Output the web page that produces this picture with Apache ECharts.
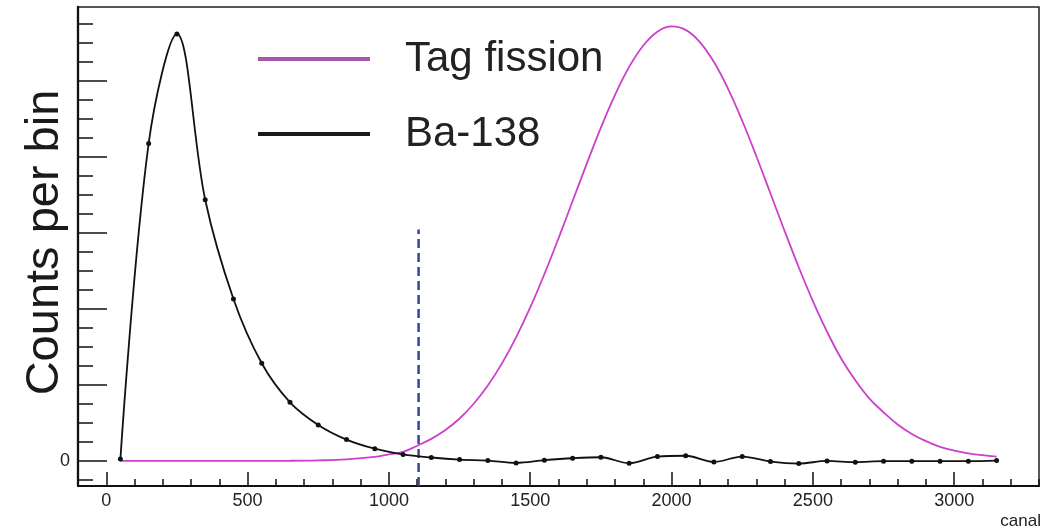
<!DOCTYPE html>
<html><head><meta charset="utf-8">
<script src="https://cdn.jsdelivr.net/npm/echarts@6/dist/echarts.min.js"></script>
<style>html,body{margin:0;padding:0;background:#fff}#c{width:1059px;height:531px}</style>
</head><body><div id="c"></div>
<script>
// canal values (x) where Ba-138 is sampled
const canal = [50,150,250,350,450,550,650,750,850,950,1050,1150,1250,1350,1450,1550,1650,1750,1850,1950,2050,2150,2250,2350,2450,2550,2650,2750,2850,2950,3050,3150];
// Ba-138 counts per bin
const ba138 = [26,4175,5615,3435,2129,1284,771,473,280,160,85,45,17,4,-26,9,35,48,-30,57,68,-13,57,-9,-35,0,-17,-4,-4,-4,-4,4];
// canal values (x) where Tag fission is sampled
const fissionCanal = [50,250,450,650,750,850,950,1000,1050,1100,1150,1200,1250,1300,1350,1400,1450,1500,1550,1600,1650,1700,1750,1800,1850,1900,1950,2000,2050,2100,2150,2200,2250,2300,2350,2400,2450,2500,2550,2600,2650,2700,2750,2800,2850,2900,2950,3000,3050,3100,3150];
// Tag fission counts per bin
const tagFission = [0,0,0,2,7,20,52,85,118,200,290,406,558,752,992,1283,1626,2018,2456,2927,3418,3910,4384,4815,5182,5464,5646,5715,5669,5509,5246,4894,4474,4007,3517,3024,2547,2102,1700,1347,1060,820,640,480,355,260,185,135,100,75,57];
// vertical dashed cut
const cutX = [1105,1105];
const cutY = [-330,3045];
// axis ticks
const xMajorTicks = [0,500,1000,1500,2000,2500,3000];
const yMajorTicks = [0,1000,2000,3000,4000,5000];
const yMinorTicks = [-250,250,500,750,1250,1500,1750,2250,2500,2750,3250,3500,3750,4250,4500,4750,5250,5500,5750];
const yTickLabels = [0];

const FONT = '"Liberation Sans", Arial, Helvetica, sans-serif';
const chart = echarts.init(document.getElementById('c'));
chart.setOption({
  animation: false,
  backgroundColor: '#fff',
  grid: { left: 78, right: 20, top: 7, bottom: 45, show: true, borderColor: '#222', borderWidth: 1.5, backgroundColor: 'transparent', outerBoundsMode: 'none' },
  legend: {
    orient: 'vertical', left: 253, top: 27, itemWidth: 112, itemHeight: 4, itemGap: 21, icon: 'rect',
    textStyle: { fontFamily: FONT, fontSize: 42, color: '#222', lineHeight: 46, padding: [8,0,0,30] },
    data: [
      { name: 'Tag fission', itemStyle: { color: '#a857a8' } },
      { name: 'Ba-138', itemStyle: { color: '#1a1a1a' } }
    ]
  },
  xAxis: [
    {
      type: 'value', min: -100, max: 3300, interval: 100,
      name: 'canal', nameLocation: 'end', nameGap: 2,
      nameTextStyle: { fontFamily: FONT, fontSize: 17, color: '#222', align: 'right', verticalAlign: 'top', padding: [27,0,0,0] },
      axisLine: { show: true, onZero: false, lineStyle: { color: '#111', width: 2 } },
      axisTick: { show: true, inside: true, length: 7, lineStyle: { color: '#111', width: 1.5 } },
      axisLabel: { show: true, customValues: xMajorTicks, margin: 6, fontFamily: FONT, fontSize: 18, color: '#222', formatter: v => String(v) },
      splitLine: { show: false }
    },
    {
      type: 'value', min: -100, max: 3300, position: 'bottom',
      axisLine: { show: false, onZero: false },
      axisTick: { show: true, inside: true, length: 14, customValues: xMajorTicks, lineStyle: { color: '#111', width: 1.5 } },
      axisLabel: { show: false },
      splitLine: { show: false }
    }
  ],
  yAxis: [
    {
      type: 'value', min: -330, max: 5970,
      name: 'Counts per bin', nameLocation: 'middle', nameGap: 9, nameRotate: 90, nameMoveOverlap: false,
      nameTextStyle: { fontFamily: FONT, fontSize: 47, color: '#1a1a1a', padding: [0,0,0,8] },
      axisLine: { show: true, onZero: false, lineStyle: { color: '#111', width: 2.3 } },
      axisTick: { show: true, inside: true, length: 29, customValues: yMajorTicks, lineStyle: { color: '#111', width: 1.5 } },
      axisLabel: { show: true, customValues: yTickLabels, margin: 8, fontFamily: FONT, fontSize: 18, color: '#222', formatter: v => String(v) },
      splitLine: { show: false }
    },
    {
      type: 'value', min: -330, max: 5970, position: 'left',
      axisLine: { show: false, onZero: false },
      axisTick: { show: true, inside: true, length: 15, customValues: yMinorTicks, lineStyle: { color: '#111', width: 1.5 } },
      axisLabel: { show: false },
      splitLine: { show: false }
    }
  ],
  series: [
    {
      name: 'Tag fission', type: 'line', xAxisIndex: 0, yAxisIndex: 0,
      data: fissionCanal.map((x, i) => [x, tagFission[i]]),
      smooth: 0.4, showSymbol: false, symbol: 'none',
      lineStyle: { color: '#cc40cc', width: 1.8 }, itemStyle: { color: '#cc40cc' }, z: 3
    },
    {
      name: 'Ba-138', type: 'line', xAxisIndex: 0, yAxisIndex: 0,
      data: canal.map((x, i) => [x, ba138[i]]),
      smooth: 0.35, symbol: 'circle', symbolSize: 5, showSymbol: true,
      lineStyle: { color: '#111', width: 1.8 }, itemStyle: { color: '#111' }, z: 4
    },
    {
      name: 'cut', type: 'line', xAxisIndex: 0, yAxisIndex: 0,
      data: cutX.map((x, i) => [x, cutY[i]]),
      symbol: 'none', lineStyle: { color: '#34479a', width: 2.5, type: [9,5] }, z: 2
    }
  ]
});
</script></body></html>
